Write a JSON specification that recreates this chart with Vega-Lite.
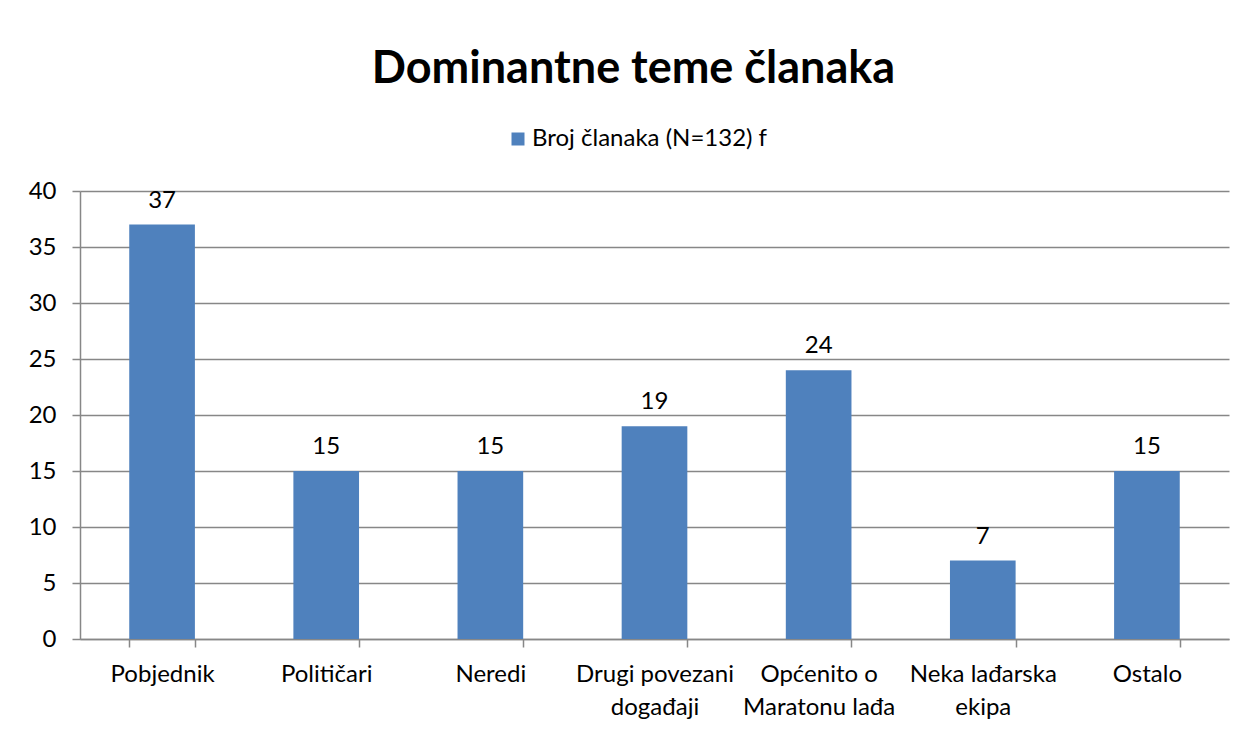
{
  "$schema": "https://vega.github.io/schema/vega-lite/v6.json",
  "autosize": {"type": "none"},
  "width": 1149,
  "height": 448,
  "padding": {"left": 80, "top": 191, "right": 19, "bottom": 91},
  "background": "white",
  "title": {
    "text": "Dominantne teme članaka",
    "font": "Lato",
    "fontSize": 45,
    "fontWeight": "bold",
    "color": "#000000",
    "anchor": "middle",
    "dx": -21,
    "offset": 35
  },
  "data": {
    "values": [
      {"tema": "Pobjednik", "broj": 37, "serija": "Broj članaka (N=132) f"},
      {"tema": "Političari", "broj": 15, "serija": "Broj članaka (N=132) f"},
      {"tema": "Neredi", "broj": 15, "serija": "Broj članaka (N=132) f"},
      {"tema": "Drugi povezani događaji", "broj": 19, "serija": "Broj članaka (N=132) f"},
      {"tema": "Općenito o Maratonu lađa", "broj": 24, "serija": "Broj članaka (N=132) f"},
      {"tema": "Neka lađarska ekipa", "broj": 7, "serija": "Broj članaka (N=132) f"},
      {"tema": "Ostalo", "broj": 15, "serija": "Broj članaka (N=132) f"}
    ]
  },
  "encoding": {
    "x": {
      "field": "tema",
      "type": "nominal",
      "sort": null,
      "scale": {"paddingInner": 0.6, "paddingOuter": 0.3},
      "axis": {
        "title": null,
        "labelAngle": 0,
        "labelFont": "Lato",
        "labelFontSize": 24,
        "labelColor": "#000000",
        "labelPadding": 15,
        "labelLineHeight": 33,
        "labelBaseline": "top",
        "labelLimit": 300,
        "tickBand": "extent",
        "tickSize": 8,
        "tickColor": "#878787",
        "tickWidth": 1.5,
        "domainColor": "#878787",
        "domainWidth": 1.5,
        "labelExpr": "datum.label == 'Drugi povezani događaji' ? ['Drugi povezani', 'događaji'] : datum.label == 'Općenito o Maratonu lađa' ? ['Općenito o', 'Maratonu lađa'] : datum.label == 'Neka lađarska ekipa' ? ['Neka lađarska', 'ekipa'] : datum.label"
      }
    },
    "y": {
      "field": "broj",
      "type": "quantitative",
      "scale": {"domain": [0, 40], "nice": false},
      "axis": {
        "title": null,
        "values": [0, 5, 10, 15, 20, 25, 30, 35, 40],
        "labelFont": "Lato",
        "labelFontSize": 24,
        "labelColor": "#000000",
        "labelPadding": 16,
        "tickSize": 8,
        "tickColor": "#878787",
        "tickWidth": 1.5,
        "domainColor": "#878787",
        "domainWidth": 1.5,
        "grid": true,
        "gridColor": "#878787",
        "gridWidth": 1.5
      }
    }
  },
  "layer": [
    {
      "mark": {"type": "bar"},
      "encoding": {
        "color": {
          "field": "serija",
          "type": "nominal",
          "scale": {"range": ["#4f81bd"]},
          "legend": {
            "title": null,
            "orient": "none",
            "legendX": 426,
            "legendY": -64,
            "symbolType": "square",
            "symbolSize": 169,
            "symbolStrokeWidth": 0,
            "labelFont": "Lato",
            "labelFontSize": 24,
            "labelColor": "#000000",
            "labelOffset": 2,
            "labelLimit": 500
          }
        }
      }
    },
    {
      "mark": {"type": "text", "dy": -17, "baseline": "alphabetic", "font": "Lato", "fontSize": 24, "color": "#000000"},
      "encoding": {"text": {"field": "broj", "type": "quantitative"}}
    }
  ],
  "config": {"view": {"stroke": null}}
}
